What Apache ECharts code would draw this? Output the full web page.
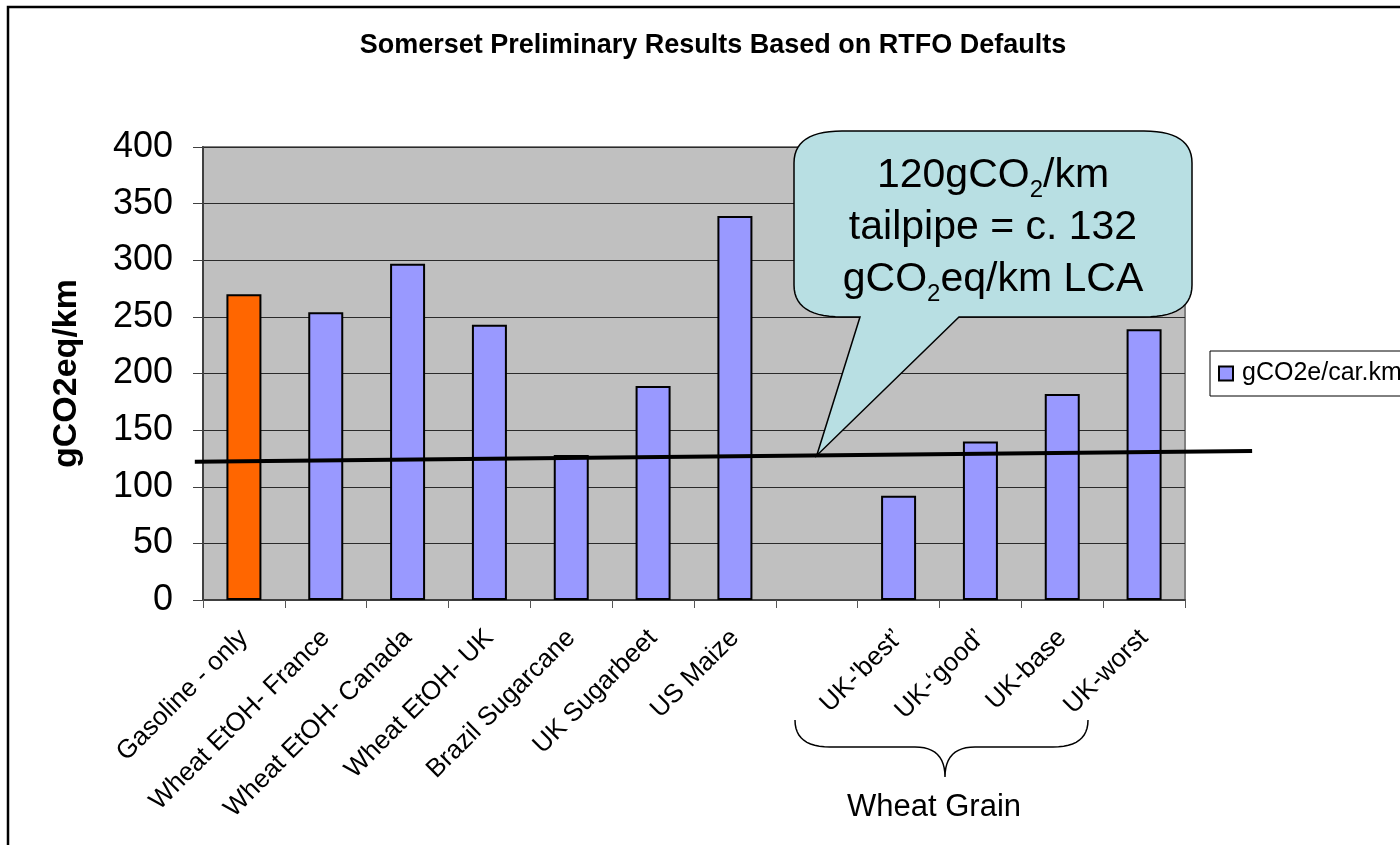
<!DOCTYPE html>
<html>
<head>
<meta charset="utf-8">
<script src="https://cdn.jsdelivr.net/npm/echarts@6/dist/echarts.min.js"></script>
<style>
  html, body { margin: 0; padding: 0; background: #fff; }
  #chart { width: 1400px; height: 845px; }
</style>
</head>
<body>
<div id="chart"></div>
<script>
// values
const categories = ['Gasoline - only', 'Wheat EtOH- France', 'Wheat EtOH- Canada', 'Wheat EtOH- UK',
  'Brazil Sugarcane', 'UK Sugarbeet', 'US Maize', '', "UK-'best\u2019", 'UK-\u2018good\u2019', 'UK-base', 'UK-worst'];
const values = [270, 254, 297, 243, 128, 189, 339, null, 92, 140, 182, 239];
const seriesName = 'gCO2e/car.km';
const yMin = 0, yMax = 400, yStep = 50;

// the 120 g/km tailpipe line, x in category widths from the left edge of the plot
const lineX = [-0.1, 12.82];
const lineY = [122, 131.6];
const calloutTip = [7.5, 127.6];

const FONT = "'Liberation Sans', Arial, sans-serif";
const chart = echarts.init(document.getElementById('chart'));

const barData = values.map((v, i) => {
  if (v === null) return '-';
  if (i === 0) return { value: v, itemStyle: { color: '#ff6600' } };
  return v;
});

const option = {
  animation: false,
  backgroundColor: '#fff',
  title: {
    text: 'Somerset Preliminary Results Based on RTFO Defaults',
    left: 713,
    textAlign: 'center',
    top: 32,
    padding: 0,
    textStyle: { fontFamily: FONT, fontSize: 27, fontWeight: 'bold', color: '#000' }
  },
  legend: {
    data: [seriesName],
    orient: 'vertical',
    left: 1210,
    top: 351,
    padding: [10, 8],
    borderColor: '#000',
    borderWidth: 1,
    backgroundColor: '#fff',
    icon: 'rect',
    itemWidth: 14,
    itemHeight: 14,
    itemStyle: { borderColor: '#000', borderWidth: 2 },
    textStyle: { fontFamily: FONT, fontSize: 25, color: '#000', padding: [0, 0, 0, 4] }
  },
  grid: {
    left: 203,
    right: 215,
    top: 147,
    bottom: 245,
    containLabel: false,
    outerBoundsMode: 'none',
    show: true,
    backgroundColor: '#c0c0c0',
    borderColor: '#808080',
    borderWidth: 2
  },
  xAxis: [
    {
      type: 'category',
      data: categories,
      axisLine: { lineStyle: { color: '#404040', width: 2 } },
      axisTick: { show: true, length: 8, alignWithLabel: false, lineStyle: { color: '#555', width: 1 } },
      axisLabel: {
        interval: 0,
        rotate: 45,
        margin: 34,
        fontFamily: FONT,
        fontSize: 26,
        color: '#000'
      }
    },
    {
      type: 'value',
      min: 0,
      max: 12,
      show: false
    }
  ],
  yAxis: {
    type: 'value',
    min: yMin,
    max: yMax,
    interval: yStep,
    name: 'gCO2eq/km',
    nameLocation: 'middle',
    nameGap: 119,
    nameMoveOverlap: false,
    nameTextStyle: { fontFamily: FONT, fontSize: 34, fontWeight: 'bold', color: '#000' },
    axisLine: { show: true, lineStyle: { color: '#404040', width: 2 } },
    axisTick: { show: true, length: 10, lineStyle: { color: '#404040', width: 1 } },
    axisLabel: { margin: 30, fontFamily: FONT, fontSize: 36, color: '#000' },
    splitLine: { show: true, lineStyle: { color: '#2a2a2a', width: 1 } }
  },
  series: [
    {
      name: seriesName,
      type: 'bar',
      data: barData,
      barWidth: 35,
      itemStyle: { color: '#9999ff', borderColor: '#000', borderWidth: 2 },
      z: 2
    }
  ]
};

chart.setOption(option);

// pixel positions from the chart's own scales (hidden value x axis + y axis)
const finder = { xAxisIndex: 1, yAxisIndex: 0 };
const linePts = lineX.map((x, i) => chart.convertToPixel(finder, [x, lineY[i]]));
const tip = chart.convertToPixel(finder, calloutTip);

// sample a quadratic curve into points
function quad(p0, c, p1, n) {
  const pts = [];
  for (let k = 1; k <= n; k++) {
    const t = k / n, u = 1 - t;
    pts.push([u * u * p0[0] + 2 * u * t * c[0] + t * t * p1[0],
              u * u * p0[1] + 2 * u * t * c[1] + t * t * p1[1]]);
  }
  return pts;
}

const bx0 = 794, by0 = 131, bx1 = 1192, by1 = 317, rx = 48, ry = 32;
const tailL = 860, tailR = 959;
let bubble = [[bx0 + rx, by0], [bx1 - rx, by0]];
bubble = bubble.concat(quad([bx1 - rx, by0], [bx1, by0], [bx1, by0 + ry], 14));
bubble.push([bx1, by1 - ry]);
bubble = bubble.concat(quad([bx1, by1 - ry], [bx1, by1], [bx1 - rx, by1], 14));
bubble.push([tailR, by1], tip, [tailL, by1], [bx0 + rx, by1]);
bubble = bubble.concat(quad([bx0 + rx, by1], [bx0, by1], [bx0, by1 - ry], 14));
bubble.push([bx0, by0 + ry]);
bubble = bubble.concat(quad([bx0, by0 + ry], [bx0, by0], [bx0 + rx, by0], 14));

let brace = [[795, 720]];
brace = brace.concat(quad([795, 720], [795, 747], [830, 747], 12));
brace.push([915, 747]);
brace = brace.concat(quad([915, 747], [945, 747], [945, 777], 12));
brace = brace.concat(quad([945, 777], [945, 747], [975, 747], 12));
brace.push([1053, 747]);
brace = brace.concat(quad([1053, 747], [1088, 747], [1088, 720], 12));

chart.setOption({
  graphic: [
    {
      type: 'rect',
      shape: { x: 8, y: 7, width: 1420, height: 880 },
      style: { fill: 'none', stroke: '#000', lineWidth: 2.5 },
      silent: true,
      z: 0
    },
    {
      type: 'polyline',
      shape: { points: linePts },
      style: { stroke: '#000', lineWidth: 4, fill: 'none' },
      z: 50
    },
    {
      type: 'polygon',
      shape: { points: bubble },
      style: { fill: '#b8dfe3', stroke: '#000', lineWidth: 1.5 },
      z: 100
    },
    {
      type: 'text',
      x: 993,
      y: 228,
      z: 101,
      style: {
        text: '{n|120gCO}{s|2}{n|/km}\n{n|tailpipe = c. 132}\n{n|gCO}{s|2}{n|eq/km LCA}',
        align: 'center',
        verticalAlign: 'middle',
        fill: '#000',
        fontFamily: FONT,
        rich: {
          n: { fontFamily: FONT, fontSize: 41, lineHeight: 52, fill: '#000' },
          s: { fontFamily: FONT, fontSize: 24, lineHeight: 22, verticalAlign: 'bottom', fill: '#000' }
        }
      }
    },
    {
      type: 'polyline',
      shape: { points: brace },
      style: { fill: 'none', stroke: '#000', lineWidth: 1.5 },
      z: 100
    },
    {
      type: 'text',
      x: 934,
      y: 807,
      z: 100,
      style: {
        text: 'Wheat Grain',
        align: 'center',
        verticalAlign: 'middle',
        fontFamily: FONT,
        fontSize: 31,
        fill: '#000'
      }
    }
  ]
});
</script>
</body>
</html>
